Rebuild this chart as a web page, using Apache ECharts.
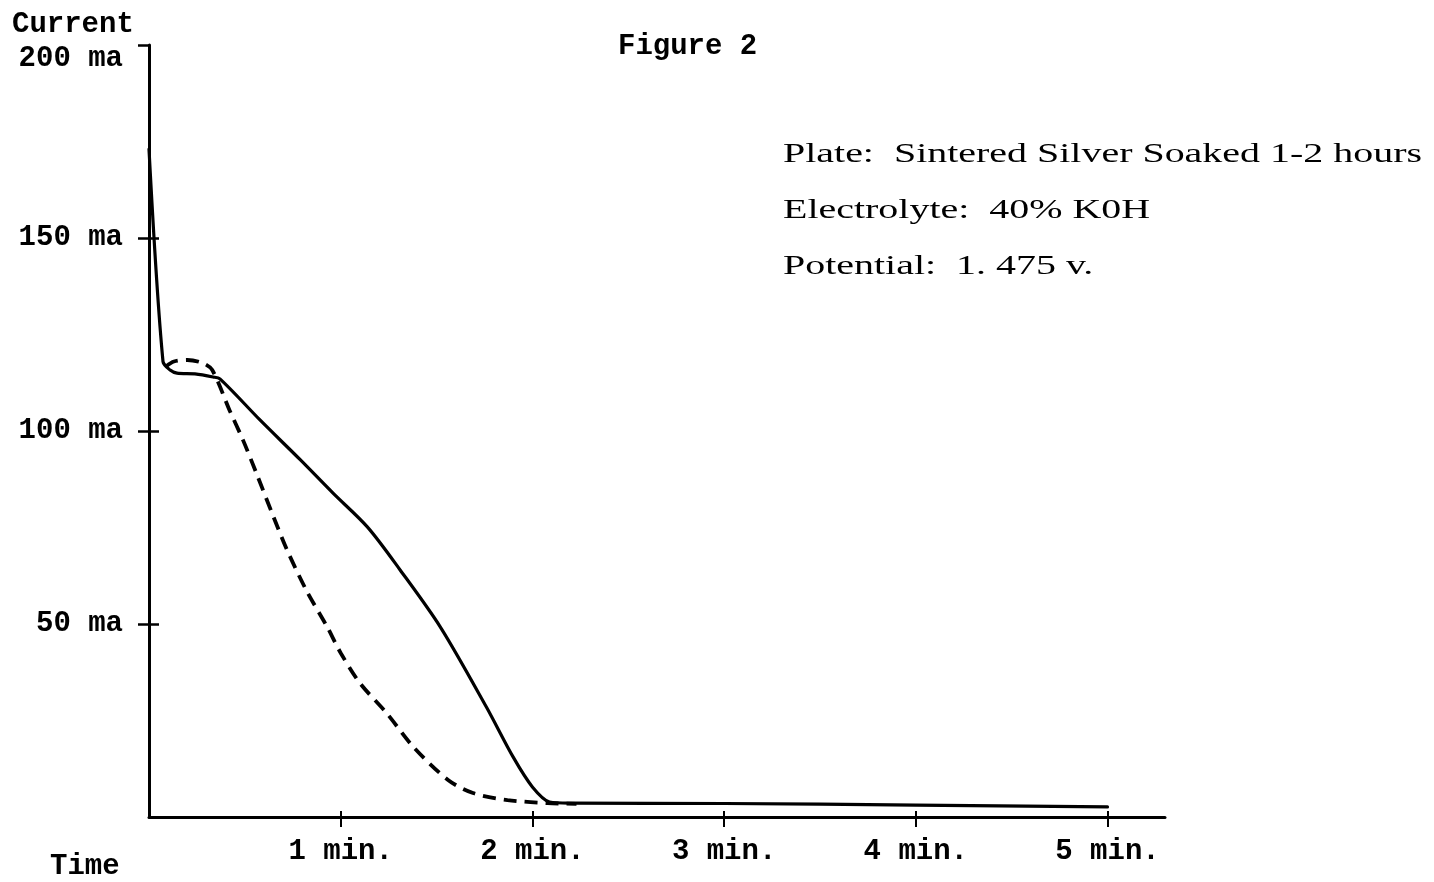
<!DOCTYPE html>
<html>
<head>
<meta charset="utf-8">
<script src="https://cdn.jsdelivr.net/npm/echarts@6/dist/echarts.min.js"></script>
<style>
html,body{margin:0;padding:0;background:#fff;}
#chart{width:1434px;height:882px;}
</style>
</head>
<body>
<div id="chart"></div>
<script>
// ---- data (time in minutes, current in ma) ----
var solidTime    = [0, 0.073, 0.11, 0.146, 0.24, 0.334, 0.37, 0.58, 0.79, 0.96, 1.14, 1.31, 1.52, 1.76, 1.90, 2.0, 2.09, 2.2, 3.0, 4.0, 5.0];
var solidCurrent = [173, 118, 115.8, 115, 114.8, 114, 113.5, 102.8, 92.5, 83.9, 75.1, 64, 49.2, 28.5, 15.5, 7.8, 3.9, 3.6, 3.5, 3.1, 2.6];
var dashedTime    = [0.09, 0.13, 0.20, 0.28, 0.33, 0.42, 0.49, 0.56, 0.65, 0.72, 0.82, 0.93, 1.0, 1.10, 1.24, 1.38, 1.56, 1.69, 1.87, 2.08, 2.23];
var dashedCurrent = [116.8, 118, 118.4, 117.6, 115.8, 105.4, 97.7, 89.1, 77.7, 69.2, 58.8, 49.2, 42.5, 34.7, 26.9, 18.1, 9.6, 6.2, 4.4, 3.6, 3.4];
var xTickLabels = ['', '1 min.', '2 min.', '3 min.', '4 min.', '5 min.'];
var yTickLabels = {50: '50 ma', 100: '100 ma', 150: '150 ma', 200: '200 ma'};
var xTitle = 'Time';
var yTitle = 'Current';
var figTitle = 'Figure 2';
var notes = ['Plate:  Sintered Silver Soaked 1-2 hours', 'Electrolyte:  40% K0H', 'Potential:  1. 475 v.'];

function zip(a, b) { return a.map(function (v, i) { return [v, b[i]]; }); }

var mono = '"Liberation Mono", "DejaVu Sans Mono", monospace';
var serif = '"Liberation Serif", "DejaVu Serif", serif';
var monoSize = 29;
var noteSize = 27;

// horizontal stretch of the annotation block to match the reference width
var cv = document.createElement('canvas').getContext('2d');
cv.font = noteSize + 'px ' + serif;
var noteScale = 639 / cv.measureText(notes[0]).width;

var chart = echarts.init(document.getElementById('chart'), null, {renderer: 'canvas'});
var X_MAX = 5.3;
var option = {
  backgroundColor: '#ffffff',
  animation: false,
  grid: {left: 149, right: 269, top: 45, bottom: 65, containLabel: false},
  xAxis: [{
    type: 'value', min: 0, max: X_MAX, interval: 1,
    axisLine: {lineStyle: {color: '#000', width: 3}},
    axisTick: {show: true, length: 10, lineStyle: {color: '#000', width: 2}, customValues: [1, 2, 3, 4, 5]},
    splitLine: {show: false},
    axisLabel: {
      margin: 20, color: '#000', fontFamily: mono, fontSize: monoSize, fontWeight: 'bold',
      formatter: function (v) { return xTickLabels[Math.round(v)] || ''; }
    }
  }, {
    type: 'value', min: 0, max: X_MAX, interval: 1, position: 'bottom',
    axisLine: {show: false},
    axisTick: {show: true, inside: true, length: 6, lineStyle: {color: '#000', width: 2}, customValues: [1, 2, 3, 4, 5]},
    axisLabel: {show: false}, splitLine: {show: false}
  }],
  yAxis: [{
    type: 'value', min: 0, max: 200, interval: 50,
    axisLine: {show: true, lineStyle: {color: '#000', width: 3}},
    axisTick: {show: true, length: 11, lineStyle: {color: '#000', width: 2.5}, customValues: [50, 100, 150, 200]},
    splitLine: {show: false},
    axisLabel: {
      margin: 26, color: '#000', fontFamily: mono, fontSize: monoSize, fontWeight: 'bold',
      formatter: function (v) { return yTickLabels[v] ? (v === 200 ? '{t|' + yTickLabels[v] + '}' : yTickLabels[v]) : ''; },
      rich: {t: {fontFamily: mono, fontSize: monoSize, fontWeight: 'bold', color: '#000', padding: [28, 0, 0, 0]}}
    }
  }, {
    type: 'value', min: 0, max: 200, interval: 50, position: 'left',
    axisLine: {show: false},
    axisTick: {show: true, inside: true, length: 10, lineStyle: {color: '#000', width: 2.5}, customValues: [50, 100, 150]},
    axisLabel: {show: false}, splitLine: {show: false}
  }],
  series: [{
    type: 'line', xAxisIndex: 0, yAxisIndex: 0,
    data: zip(solidTime, solidCurrent),
    smooth: 0.3, showSymbol: false, symbol: 'none',
    lineStyle: {color: '#000', width: 3.2, cap: 'round', join: 'round'}
  }, {
    type: 'line', xAxisIndex: 0, yAxisIndex: 0,
    data: zip(dashedTime, dashedCurrent),
    smooth: 0.3, showSymbol: false, symbol: 'none',
    lineStyle: {color: '#000', width: 3.8, type: [13, 8]}
  }],
  graphic: [
    {type: 'text', left: 12, top: 10, style: {text: yTitle, fill: '#000', font: 'bold ' + monoSize + 'px ' + mono}},
    {type: 'text', left: 50, top: 852, style: {text: xTitle, fill: '#000', font: 'bold ' + monoSize + 'px ' + mono}},
    {type: 'text', left: 618, top: 32, style: {text: figTitle, fill: '#000', font: 'bold ' + monoSize + 'px ' + mono}}
  ].concat(notes.map(function (t, i) {
    return {
      type: 'text', x: 783, y: [155, 211, 267][i], scaleX: noteScale,
      style: {text: t, fill: '#000', font: noteSize + 'px ' + serif, textAlign: 'left', textVerticalAlign: 'middle', verticalAlign: 'middle'}
    };
  }))
};
chart.setOption(option);
</script>
</body>
</html>
